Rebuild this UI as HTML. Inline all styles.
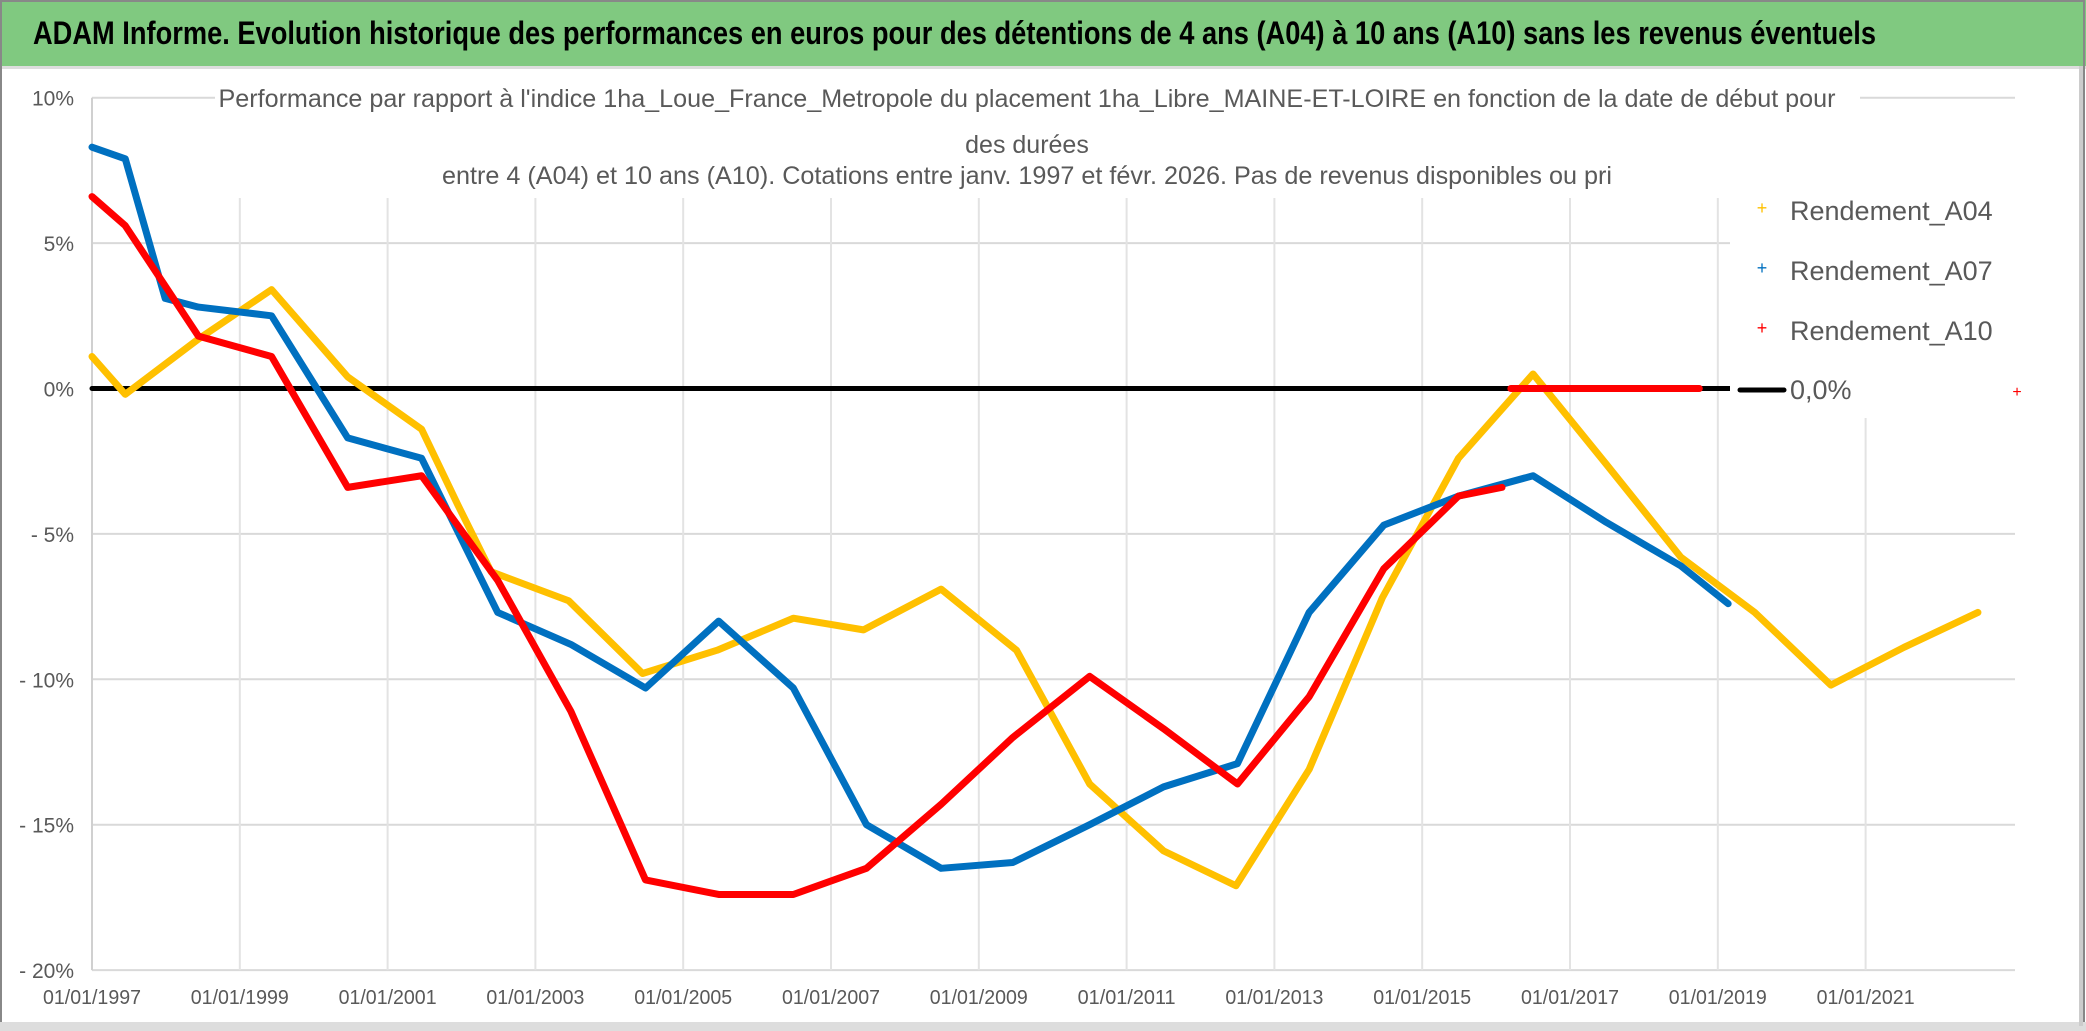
<!DOCTYPE html>
<html><head><meta charset="utf-8"><style>
html,body{margin:0;padding:0;background:#fff;}
svg{display:block;font-family:"Liberation Sans Narrow","Liberation Sans",sans-serif;}
</style></head><body>
<svg id="chart" width="2086" height="1031" viewBox="0 0 2086 1031" xmlns="http://www.w3.org/2000/svg">
<rect x="0" y="0" width="2086" height="1031" fill="#fff"/>
<rect x="0" y="0" width="2086" height="66" fill="#80c980"/>
<rect x="0" y="66" width="2086" height="3" fill="#ddd"/>
<rect x="1" y="1" width="2083" height="1028" fill="none" stroke="#888" stroke-width="2"/>
<rect x="0" y="1022" width="2086" height="9" fill="#ddd"/>
<rect x="2079" y="66" width="4" height="960" fill="#ccc"/>
<text x="33" y="44" font-size="32" font-weight="bold" fill="#000" textLength="1843" lengthAdjust="spacingAndGlyphs">ADAM Informe. Evolution historique des performances en euros pour des détentions de 4 ans (A04) à 10 ans (A10) sans les revenus éventuels</text>
<g id="grid"></g>
<rect x="215" y="78" width="1645" height="120" fill="#fff"/>
<g fill="#595959" font-size="25" text-anchor="middle">
<text x="1027" y="107" textLength="1617" lengthAdjust="spacingAndGlyphs">Performance par rapport à l'indice 1ha_Loue_France_Metropole  du placement 1ha_Libre_MAINE-ET-LOIRE en fonction de la date de début pour</text>
<text x="1027" y="153">des durées</text>
<text x="1027" y="184" textLength="1170" lengthAdjust="spacingAndGlyphs">entre 4 (A04) et 10 ans (A10). Cotations entre janv. 1997 et févr. 2026. Pas de revenus disponibles ou pri</text>
</g>
<g id="series"></g>
<rect x="1730" y="188" width="285" height="230" fill="#fff"/>
<g id="legend" font-size="27" fill="#595959"></g>
</svg>
<script>
const yearsA04=[1997,1997.45,1998.44,1999.43,2000.46,2001.46,2001.95,2002.4,2003.45,2004.45,2005.46,2006.49,2007.44,2008.49,2009.51,2010.5,2011.5,2012.48,2013.47,2014.46,2015.49,2016.5,2017.49,2018.5,2019.5,2020.53,2021.52,2022.52];
const valsA04=[1.1,-0.2,1.7,3.4,0.4,-1.4,-4.0,-6.3,-7.3,-9.8,-9.0,-7.9,-8.3,-6.9,-9.0,-13.6,-15.9,-17.1,-13.1,-7.2,-2.4,0.5,-2.6,-5.8,-7.7,-10.2,-8.9,-7.7];
const yearsA07=[1997,1997.45,1997.99,1998.44,1999.43,2000.46,2001.46,2002.49,2003.48,2004.49,2005.48,2006.49,2007.48,2008.49,2009.46,2010.5,2011.5,2012.5,2013.47,2014.48,2015.49,2016.5,2017.49,2018.5,2019.14];
const valsA07=[8.3,7.9,3.1,2.8,2.5,-1.7,-2.4,-7.7,-8.8,-10.3,-8.0,-10.3,-15.0,-16.5,-16.3,-15.0,-13.7,-12.9,-7.7,-4.7,-3.7,-3.0,-4.6,-6.1,-7.4];
const yearsA10=[1997,1997.45,1998.44,1999.43,2000.46,2001.46,2002.49,2003.48,2004.49,2005.48,2006.49,2007.48,2008.49,2009.46,2010.5,2011.5,2012.5,2013.47,2014.48,2015.49,2016.08];
const valsA10=[6.6,5.6,1.8,1.1,-3.4,-3.0,-6.6,-11.1,-16.9,-17.4,-17.4,-16.5,-14.3,-12.0,-9.9,-11.7,-13.6,-10.6,-6.2,-3.7,-3.4];
const yearsA10b=[2016.2,2018.75];
const valsA10b=[0,0];
const zeroYears=[1997,2019.2];
const zeroVals=[0,0];
const yTicks=[10,5,0,-5,-10,-15,-20];
const yTickLabels=["10%","5%","0%","- 5%","- 10%","- 15%","- 20%"];
const xTicks=[1997,1999,2001,2003,2005,2007,2009,2011,2013,2015,2017,2019,2021];
const xTickLabels=["01/01/1997","01/01/1999","01/01/2001","01/01/2003","01/01/2005","01/01/2007","01/01/2009","01/01/2011","01/01/2013","01/01/2015","01/01/2017","01/01/2019","01/01/2021"];

const NS="http://www.w3.org/2000/svg";
const X=y=>92+(y-1997)*73.9;
const Y=p=>388.5-p*29.08;
const XR=2015;
function mk(tag,attrs,parent){const e=document.createElementNS(NS,tag);for(const k in attrs)e.setAttribute(k,attrs[k]);parent.appendChild(e);return e;}
const grid=document.getElementById('grid');
yTicks.forEach((t,i)=>{
  const l=mk('line',{x1:X(1997),x2:XR,y1:Y(t),y2:Y(t),stroke:'#d9d9d9','stroke-width':2},grid);
  
  
  const tx=mk('text',{x:74,y:Y(t)+8,'text-anchor':'end','font-size':21,fill:'#595959'},grid);
  tx.textContent=yTickLabels[i];
  
  
});
xTicks.forEach((t,i)=>{
  const l=mk('line',{x1:X(t),x2:X(t),y1:t===1997?Y(10):197,y2:Y(-20),stroke:t===1997?'#d0d0d0':'#e3e3e3','stroke-width':2},grid);
  
  
  const tx=mk('text',{x:X(t),y:1004,'text-anchor':'middle','font-size':20,fill:'#595959',textLength:98,lengthAdjust:'spacingAndGlyphs'},grid);
  tx.textContent=xTickLabels[i];
  
  
});
const ser=document.getElementById('series');
function line(xs,vs,color,name,w){
  const p=mk('polyline',{points:xs.map((x,i)=>X(x)+','+Y(vs[i])).join(' '),fill:'none',stroke:color,'stroke-width':w,'stroke-linejoin':'round','stroke-linecap':'round'},ser);
  
  
}
line(zeroYears,zeroVals,'#000','zero-line',5);
line(yearsA04,valsA04,'#ffc000','series-a04',7);
line(yearsA07,valsA07,'#0070c0','series-a07',7);
line(yearsA10,valsA10,'#ff0000','series-a10',7);
line(yearsA10b,valsA10b,'#ff0000','series-a10-flat',7);
const lg=document.getElementById('legend');
const items=[["Rendement_A04","#ffc000",220],["Rendement_A07","#0070c0",280],["Rendement_A10","#ff0000",340]];
items.forEach(it=>{
  const m=mk('text',{x:1762,y:it[2]-6,'text-anchor':'middle','font-size':18,fill:it[1]},lg);
  m.textContent='+';
  
  
  const t=mk('text',{x:1790,y:it[2]},lg);
  t.textContent=it[0];
  
  
});
const zl=mk('line',{x1:1740,x2:1784,y1:390,y2:390,stroke:'#000','stroke-width':5,'stroke-linecap':'round'},lg);


const zt=mk('text',{x:1790,y:399},lg);
zt.textContent='0,0%';


const rm=mk('text',{x:2017,y:397,'text-anchor':'middle','font-size':16,fill:'#ff0000'},lg);
rm.textContent='+';


</script>
</body></html>
